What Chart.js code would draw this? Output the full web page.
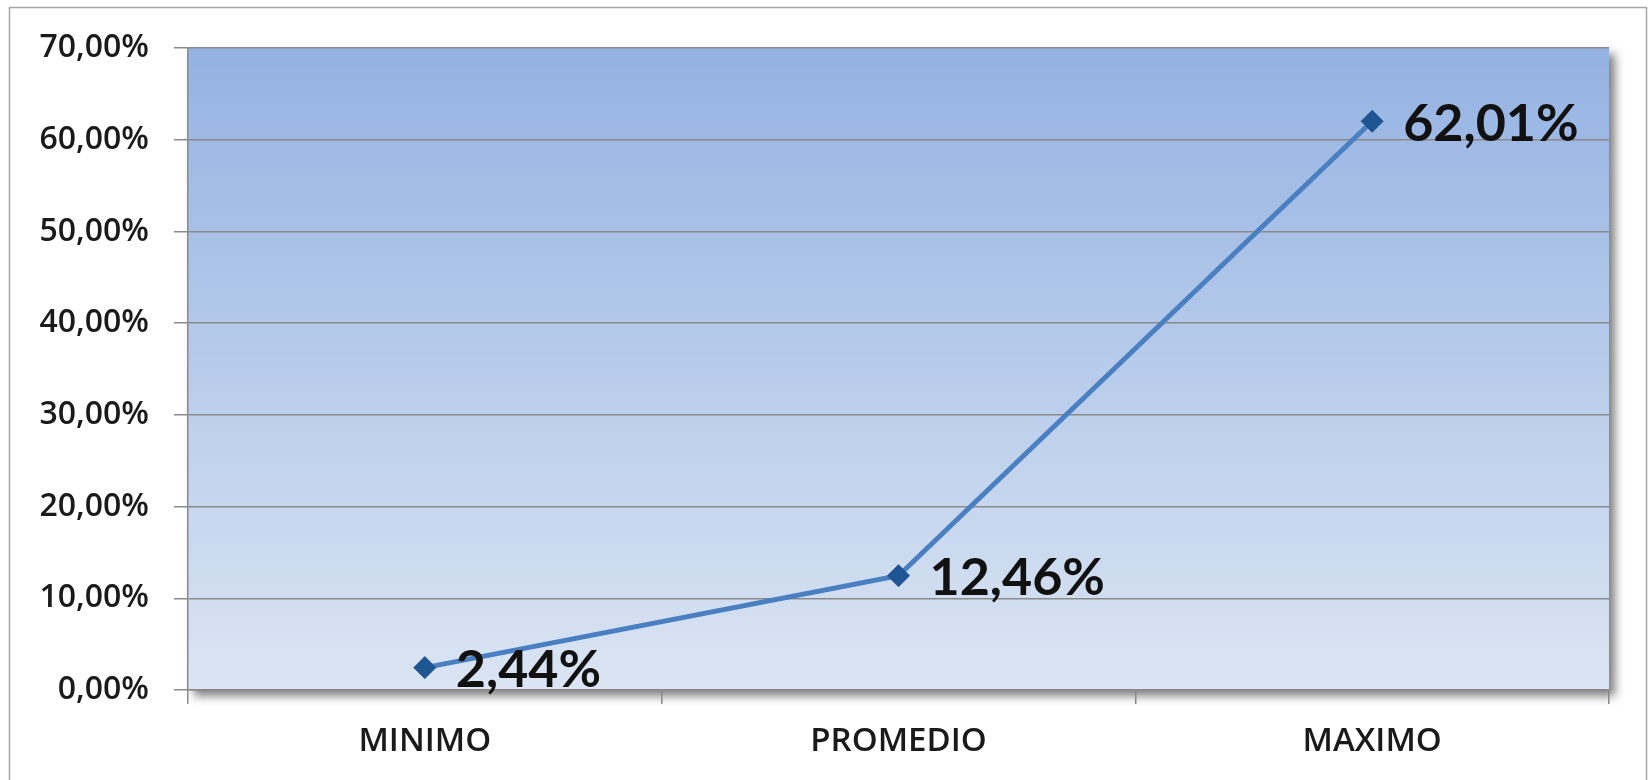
<!DOCTYPE html>
<html>
<head>
<meta charset="utf-8">
<script src="https://cdn.jsdelivr.net/npm/chart.js@4/dist/chart.umd.min.js"></script>
<style>
html,body{margin:0;padding:0;background:#ffffff;}
canvas{display:block;}
</style>
</head>
<body>
<canvas id="c" width="1649" height="780"></canvas>
<script>
const categories = ['MINIMO', 'PROMEDIO', 'MAXIMO'];
const values = [2.44, 12.46, 62.01];
const yTicks = [0, 10, 20, 30, 40, 50, 60, 70];

function fmt(v, d) { return v.toFixed(d).replace('.', ',') + '%'; }

const framePlugin = {
  id: 'frame',
  beforeDraw(chart) {
    const ctx = chart.ctx, a = chart.chartArea;
    ctx.save();
    ctx.fillStyle = '#ffffff';
    ctx.fillRect(0, 0, chart.width, chart.height);
    ctx.strokeStyle = '#a6a6a6';
    ctx.lineWidth = 1.5;
    ctx.strokeRect(9.5, 7.5, 1637, 790);
    // shadow
    ctx.shadowColor = 'rgba(0,0,0,0.5)';
    ctx.shadowBlur = 9;
    ctx.shadowOffsetX = 6;
    ctx.shadowOffsetY = 6;
    ctx.fillStyle = '#c8d6ec';
    ctx.fillRect(a.left, a.top, a.right - a.left, a.bottom - a.top);
    ctx.shadowColor = 'transparent';
    const g = ctx.createLinearGradient(0, a.top, 0, a.bottom);
    g.addColorStop(0, '#94b2e2');
    g.addColorStop(1, '#dbe5f3');
    ctx.fillStyle = g;
    ctx.fillRect(a.left, a.top, a.right - a.left, a.bottom - a.top);
    ctx.restore();
  },
  afterDatasetsDraw(chart) {
    const ctx = chart.ctx;
    const meta = chart.getDatasetMeta(0);
    ctx.save();
    ctx.font = 'bold 52px Lato';
    ctx.fillStyle = '#111111';
    ctx.textAlign = 'left';
    ctx.textBaseline = 'middle';
    meta.data.forEach((pt, i) => {
      ctx.fillText(fmt(values[i], 2), pt.x + 31, pt.y + 3);
    });
    ctx.restore();
  }
};

new Chart(document.getElementById('c'), {
  type: 'line',
  data: {
    labels: categories,
    datasets: [{
      data: values,
      borderColor: '#4a80c2',
      borderWidth: 5,
      pointStyle: 'rectRot',
      pointRadius: 11,
      pointBackgroundColor: '#1f5593',
      pointBorderColor: '#1f5593',
      pointBorderWidth: 1,
      tension: 0
    }]
  },
  options: {
    responsive: false,
    animation: false,
    devicePixelRatio: 1,
    layout: { padding: { top: 48, right: 40, left: 0, bottom: 0 } },
    plugins: { legend: { display: false }, tooltip: { enabled: false } },
    scales: {
      x: {
        offset: true,
        afterFit(s) { s.height = 90; },
        grid: { display: true, offset: true, drawOnChartArea: false, drawTicks: true, tickLength: 14, color: '#8a8a8a', lineWidth: 1.5 },
        border: { display: true, color: '#8a8a8a', width: 1.5 },
        ticks: { color: '#1a1a1a', font: { family: 'Open Sans', size: 33, weight: '600' }, padding: 18 }
      },
      y: {
        min: 0,
        max: 70,
        afterFit(s) { s.width = 188; },
        afterBuildTicks(s) { s.ticks = yTicks.map(v => ({ value: v })); },
        grid: { color: '#8a8a8a', lineWidth: 1.5, tickLength: 14 },
        border: { display: true, color: '#8a8a8a', width: 1.5 },
        ticks: { color: '#1a1a1a', font: { family: 'Open Sans', size: 32, weight: '600' }, padding: 25,
          callback: (v) => fmt(v, 2) }
      }
    }
  },
  plugins: [framePlugin]
});
</script>
</body>
</html>
